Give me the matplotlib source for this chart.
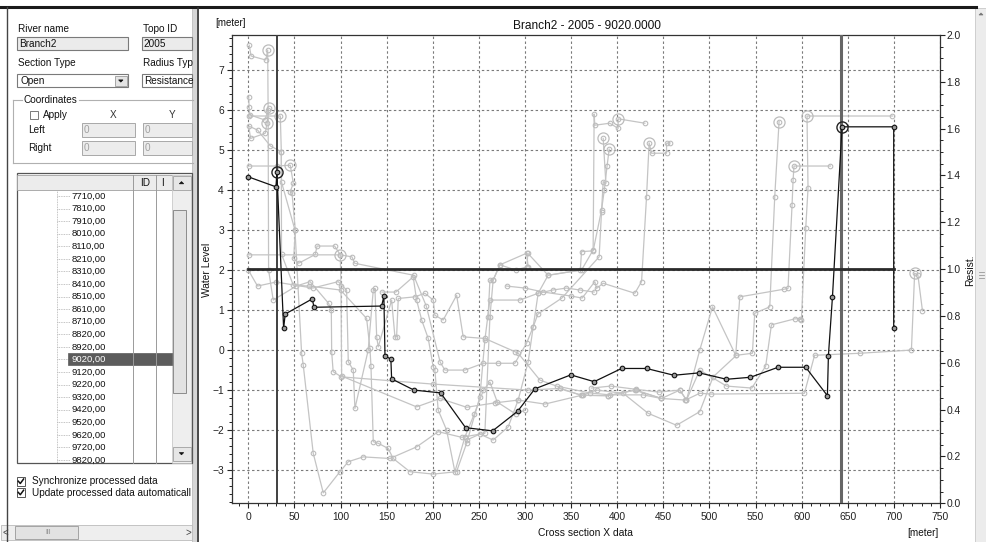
import matplotlib
matplotlib.use('Agg')
import matplotlib.pyplot as plt
from matplotlib.patches import Rectangle, Polygon
import matplotlib.ticker as mt

plt.rcParams['font.family'] = ['Liberation Sans', 'DejaVu Sans']

# ---------------- data ----------------
title = "Branch2 - 2005 - 9020.0000"
river_name = "Branch2"
topo_id = "2005"
section_items = ["7710,00", "7810,00", "7910,00", "8010,00", "8110,00", "8210,00",
                 "8310,00", "8410,00", "8510,00", "8610,00", "8710,00", "8820,00",
                 "8920,00", "9020,00", "9120,00", "9220,00", "9320,00", "9420,00",
                 "9520,00", "9620,00", "9720,00", "9820,00"]
selected_item = "9020,00"

# current section (black)
cur_x = [0, 30, 31, 38.3, 40, 69.4, 71.2, 144.6, 147, 148.2, 154.6, 155.4, 179.6, 208.5,
         235.6, 264.9, 292, 310.7, 349.7, 375, 404.7, 431.8, 461.4, 488.8, 518.5, 544.5,
         574.4, 604.4, 627.9, 629, 633.4, 643.8, 699.8, 699.8]
cur_y = [4.33, 4.08, 4.44, 0.54, 0.9, 1.28, 1.07, 1.1, 1.35, -0.14, -0.23, -0.72, -1.0, -1.07,
         -1.94, -2.02, -1.53, -0.97, -0.62, -0.79, -0.46, -0.46, -0.63, -0.57, -0.73, -0.68,
         -0.43, -0.43, -1.14, -0.14, 1.33, 5.58, 5.58, 0.56]
cur_bank_x = [31, 643.8]
cur_bank_y = [4.44, 5.58]

# bank marker lines and resistance
bank_left = 30.8
bank_right = 643.1
res_x = [0, 700]
res_y = [1.0, 1.0]

# neighbouring sections (grey)
g1_x = [1, 3, 19, 21, 21.5, 22, 27, 52, 67, 87, 90, 90.4, 92, 101, 200, 303, 338, 361, 390,
        419, 448, 474, 489.5, 502, 603, 614, 663, 719, 722.5, 726, 731]
g1_y = [7.62, 7.35, 7.25, 7.5, 6.0, 2.0, 1.25, 1.6, 1.71, 1.17, 1.0, -0.04, -0.54, -0.67,
        -0.85, -1.0, -0.96, -1.13, -1.14, -1.0, -1.21, -1.25, -1.08, -1.1, -1.08, -0.13,
        -0.08, 0.0, 1.92, 1.88, 0.98]
g2_x = [0.4, 0.9, 1.5, 18, 22.1, 20.3, 18.4, 2.5, 0.4, 10, 24, 35.8, 36, 50.6, 57.8, 59.6,
        70.4, 81.3, 99.4, 108.4, 124.6, 153.6, 182.5, 205.9, 231.3, 256.5, 262, 265.5,
        272.8, 301.7, 303.5]
g2_y = [6.33, 6.07, 5.88, 5.75, 6.04, 5.67, 5.42, 5.29, 5.6, 5.5, 5.1, 4.96, 4.2, 3.0,
        -0.08, -0.38, -2.58, -3.57, -3.04, -2.79, -2.67, -2.71, -2.42, -2.04, -2.18, -2.08,
        0.83, 1.75, 2.13, 2.42, 2.08]
g3_x = [0.4, 34.7, 35.8, 36, 48.8, 66, 100, 128.3, 131.9, 133, 135.5, 140.9, 151.7, 157.1,
        175.2, 200.5, 225.8, 236.7, 251.1, 256.5, 261.9, 294.5, 314.3, 325.1, 361.3, 373.9,
        375, 375.7, 392, 401, 401, 430]
g3_y = [5.85, 5.85, 4.96, 2.4, 1.62, 1.6, 1.5, 0.79, 0.04, -0.4, -2.29, -2.33, -2.46, -2.71,
        -3.04, -3.1, -3.04, -2.33, -1.17, 0.25, 1.25, 1.25, 1.42, 1.87, 2.0, 2.5, 5.9, 5.62,
        5.67, 5.54, 5.78, 5.67]
g4_x = [0.4, 31, 45.5, 48.8, 45.5, 47.4, 51, 49.2, 54.6, 72.6, 74.5, 93.6, 99.7, 112.4,
        115.3, 179.2, 193, 208, 213.2, 234.9, 254.8, 271, 289, 301.7, 308.9, 314, 340, 380.4,
        383, 384.8, 387.7, 384.8]
g4_y = [4.6, 4.6, 4.62, 4.17, 3.96, 3.92, 3.0, 2.29, 2.17, 2.39, 2.6, 2.6, 2.38, 2.33, 2.17,
        1.87, 1.1, -0.3, -0.5, -0.5, -0.33, -0.33, -0.33, 0.17, 0.58, 0.9, 1.3, 2.33, 3.46,
        4.21, 4.17, 5.29]
g5_x = [0.4, 99.7, 100.5, 101.2, 182.5, 207.8, 236.7, 267.4, 292.6, 321.6, 363.1, 377.6,
        406.5, 433.5, 464.3, 489.5, 504, 529.3, 546.6, 549.1, 565.4, 570.8, 575.5]
g5_y = [2.38, 2.38, 1.6, -0.65, -1.42, -1.21, -1.43, -1.32, -1.25, -1.35, -1.12, -1.0,
        -1.08, -1.58, -1.88, -1.54, -0.67, -0.13, -0.08, 0.92, 1.08, 3.83, 5.71]
g6_x = [698.4, 605.8, 606.9, 604.4, 599.7, 598.7, 592.5, 567.2, 561, 546, 518.5, 489.5,
        475.1, 467.9, 445, 420, 393, 372]
g6_y = [5.85, 5.85, 4.04, 3.04, 0.75, 0.78, 0.78, 0.63, -0.4, -0.95, -0.9, -0.5, -1.25,
        -1.0, -1.05, -0.98, -0.9, -0.95]
g7_x = [631.2, 591.7, 590.7, 589.6, 585.2, 580.6, 532.9, 528.5, 503.3, 489.5, 475.1, 467.9,
        448, 420, 390, 361.3, 338]
g7_y = [4.6, 4.6, 4.25, 3.63, 1.54, 1.52, 1.33, -0.13, 1.08, 0.0, -1.25, -1.0, -1.21, -1.0,
        -1.14, -1.13, -0.96]
g8_x = [457, 453.5, 453.5, 437.2, 434.6, 431.8, 426.4, 419.1, 384.8, 377.6, 375.7, 362,
        350, 320, 300, 280]
g8_y = [5.18, 5.17, 4.92, 4.92, 5.18, 3.83, 1.71, 1.42, 1.67, 1.54, 1.71, 1.3, 1.35, 1.45,
        1.55, 1.6]
g9_x = [391.3, 389, 386, 383, 373.9, 361.3, 360, 325.1, 303, 302.2, 290, 272.8, 265.5, 262,
        260]
g9_y = [5.02, 4.6, 4.0, 3.5, 2.48, 2.46, 2.0, 1.87, 2.42, 2.08, 2.0, 2.13, 1.75, 1.75, 0.83]
g10_x = [0, 10, 30, 70, 97.5, 106.6, 108.4, 113.8, 115.6, 130, 135.5, 137.3, 139.2, 140.9,
         155.4, 159, 160.8, 162.6, 180.7, 191.5, 200.5, 202.3, 211.3, 225.9, 233, 256.5,
         289, 292.6, 316.2, 334.2, 370, 392, 428.1, 448]
g10_y = [2.0, 1.6, 1.7, 1.55, 1.71, 1.5, -0.29, -0.5, -1.46, 0.0, 1.5, 1.54, 0.33, 0.08,
         1.25, 0.33, 0.33, 1.29, 1.33, 1.42, 1.25, 0.87, 0.75, 1.37, 0.33, 0.29, -0.04,
         -0.08, -0.75, -0.9, -1.07, -1.12, -1.12, -1.21]
g11_x = [145, 160, 178.8, 182.5, 188, 195.1, 200.5, 202.3, 205.9, 215, 224, 234.9, 245, 255,
         262, 270, 290, 300]
g11_y = [1.45, 1.45, 1.83, 1.25, 0.75, 0.29, -0.42, -0.5, -1.5, -2.0, -3.04, -2.17, -1.6,
         -1.0, -0.8, -1.3, -1.6, -1.5]
g12_x = [236.7, 251, 265.5, 281.8, 292.6, 303.5, 308.9, 314.3, 330, 345, 360, 375]
g12_y = [-2.25, -2.1, -2.25, -1.92, -1.25, -0.29, 0.58, 1.42, 1.5, 1.55, 1.5, 1.45]
grey_series = [(g1_x, g1_y), (g2_x, g2_y), (g3_x, g3_y), (g4_x, g4_y), (g5_x, g5_y),
               (g6_x, g6_y), (g7_x, g7_y), (g8_x, g8_y), (g9_x, g9_y), (g10_x, g10_y),
               (g11_x, g11_y), (g12_x, g12_y)]
grey_bank_x = [21, 22.1, 20.3, 34.7, 45.5, 99.7, 401, 384.8, 391.3, 434.6, 575.5, 605.8,
               591.7, 722.5]
grey_bank_y = [7.5, 6.04, 5.67, 5.85, 4.62, 2.38, 5.78, 5.29, 5.02, 5.18, 5.71, 5.85, 4.6,
               1.92]

# ---------------- figure ----------------
W, H = 986, 542
fig = plt.figure(figsize=(W / 100, H / 100), dpi=100)
fig.patch.set_facecolor('white')
bg = fig.add_axes([0, 0, 1, 1])
bg.set_xlim(0, W)
bg.set_ylim(H, 0)
bg.axis('off')

GUI_FS = 7.2


def box(x0, y0, x1, y1, fc='white', ec='#808080', lw=0.8, z=2):
    bg.add_patch(Rectangle((x0, y0), x1 - x0, y1 - y0, fc=fc, ec=ec, lw=lw, zorder=z))


def txt(x, y, s, size=GUI_FS, **kw):
    kw.setdefault('va', 'center')
    kw.setdefault('ha', 'left')
    kw.setdefault('color', '#111111')
    bg.text(x, y, s, fontsize=size, zorder=5, **kw)


def tri(cx, cy, up=False, s=2.5, color='#111111'):
    if up:
        pts = [(cx - s, cy + s / 2), (cx + s, cy + s / 2), (cx, cy - s / 2)]
    else:
        pts = [(cx - s, cy - s / 2), (cx + s, cy - s / 2), (cx, cy + s / 2)]
    bg.add_patch(Polygon(pts, closed=True, fc=color, ec=color, lw=0.5, zorder=6))


# window frame
bg.plot([0, 976], [6.5, 6.5], color='#1a1a1a', lw=2.2, zorder=3)
bg.plot([6.5, 6.5], [7, 542], color='#444444', lw=1.0, zorder=3)
box(192, 8, 197.5, 542, fc='#d6d6d6', ec='#bdbdbd', lw=0.6)
bg.plot([197.7, 197.7], [8, 542], color='#333333', lw=1.2, zorder=3)
box(975, 8, 986, 542, fc='#ececec', ec='#c8c8c8', lw=0.6)
tri(981, 14, up=True, s=2, color='#777777')
bg.plot([979, 984], [272, 272], color='#999999', lw=0.6, zorder=4)
bg.plot([979, 984], [275, 275], color='#999999', lw=0.6, zorder=4)
bg.plot([979, 984], [278, 278], color='#999999', lw=0.6, zorder=4)

# left panel
txt(18.3, 28.5, "River name")
txt(142.7, 28.5, "Topo ID")
box(17.3, 37.3, 128.3, 50, fc='#ebebeb', ec='#7a7a7a')
txt(19.5, 43.8, river_name)
box(141.7, 37.3, 192, 50, fc='#ebebeb', ec='#7a7a7a')
txt(143.5, 43.8, topo_id)
txt(18.3, 62.7, "Section Type")
txt(142.7, 62.7, "Radius Typ")
box(17.3, 74, 128.3, 87.3, fc='white', ec='#7a7a7a')
txt(20.5, 80.8, "Open")
box(115, 76, 126.7, 86, fc='#e4e4e4', ec='#9a9a9a', lw=0.6)
tri(120.8, 81, s=2.2)
box(141.7, 74, 192, 87.3, fc='white', ec='#7a7a7a')
txt(144, 80.8, "Resistance")

# coordinates group
bg.plot([13.3, 22], [100, 100], color='#b0b0b0', lw=0.8, zorder=3)
bg.plot([79, 193], [100, 100], color='#b0b0b0', lw=0.8, zorder=3)
bg.plot([13.3, 13.3], [100, 163.3], color='#b0b0b0', lw=0.8, zorder=3)
bg.plot([13.3, 193], [163.3, 163.3], color='#b0b0b0', lw=0.8, zorder=3)
txt(24, 100, "Coordinates")
box(30, 110.7, 38.3, 119.3, fc='white', ec='#7a7a7a', lw=0.7)
txt(43.3, 115, "Apply")
txt(110, 115, "X", color='#333333')
txt(168.3, 115, "Y", color='#333333')
txt(28.3, 130, "Left")
txt(28.3, 148, "Right")
for yy in (123, 141):
    box(81.7, yy, 135, yy + 14, fc='#ececec', ec='#a8a8a8', lw=0.7)
    box(142.7, yy, 192, yy + 14, fc='#ececec', ec='#a8a8a8', lw=0.7)
    txt(83.5, yy + 7, "0", color='#a0a0a0')
    txt(144.5, yy + 7, "0", color='#a0a0a0')

# list box
box(16.7, 173.3, 191.7, 463.3, fc='white', ec='#555555', lw=0.9)
box(17.2, 175, 172, 190, fc='#ececec', ec='#a0a0a0', lw=0.6)
for xx in (132.7, 156):
    bg.plot([xx, xx], [175, 463], color='#9a9a9a', lw=0.7, zorder=4)
txt(140.5, 182.7, "ID")
txt(161, 182.7, "I")
box(172, 175, 191.2, 463, fc='#eeeeee', ec='#c0c0c0', lw=0.5)
box(172.5, 175.5, 190.5, 190, fc='#e6e6e6', ec='#a0a0a0', lw=0.6)
tri(181.5, 182.7, up=True, s=2.2)
box(172.7, 210, 185.5, 392.7, fc='#e2e2e2', ec='#8c8c8c', lw=0.7)
box(172.5, 446.5, 190.5, 461, fc='#e6e6e6', ec='#a0a0a0', lw=0.6)
tri(181.5, 453.7, s=2.2)
bg.plot([57.3, 57.3], [190, 463], color='#b0b0b0', lw=0.6, ls=(0, (1, 1)), zorder=3)
y0, step = 196.0, 12.57
for i, s in enumerate(section_items):
    yy = y0 + i * step
    if yy > 462:
        break
    bg.plot([57.3, 70], [yy, yy], color='#b0b0b0', lw=0.6, ls=(0, (1, 1)), zorder=3)
    if s == selected_item:
        box(68.3, yy - 6, 171.7, yy + 6, fc='#5c5c5c', ec='#5c5c5c', lw=0.5, z=3)
        txt(71.5, yy, s, size=6.8, color='white')
    else:
        txt(71.5, yy, s, size=6.8)

for yy, lab in ((481.5, "Synchronize processed data"),
                (492.7, "Update processed data automaticall")):
    box(16.7, yy - 4.5, 25, yy + 4.5, fc='white', ec='#555555', lw=0.7)
    bg.plot([18.3, 20.3, 23.6], [yy - 0.3, yy + 2, yy - 2.5], color='#111111', lw=1.1, zorder=6)
    txt(31.7, yy, lab)

# bottom scroll bar
box(1, 525, 191.7, 540, fc='#eeeeee', ec='#bbbbbb', lw=0.6)
box(15, 526, 78, 539, fc='#e2e2e2', ec='#999999', lw=0.6)
txt(48, 532.5, "III", size=5, color='#888888', ha='center')
txt(5, 532.5, "<", size=7, color='#444444', ha='center')
txt(188, 532.5, ">", size=7, color='#444444', ha='center')

# chart text
txt(215.7, 22.7, "[meter]", size=7.0)
txt(513.3, 26, title, size=8.6)
txt(585.8, 532.7, "Cross section X data", size=7.4, ha='center')
txt(923, 533, "[meter]", size=7.2, ha='center')
txt(207, 270, "Water Level", size=7.4, ha='center', rotation=90)
txt(970, 270, "Resist.", size=7.4, ha='center', rotation=90)

# ---------------- chart ----------------
L, R, T, B = 231.7, 940.0, 35.0, 503.3
ax = fig.add_axes([L / W, 1 - B / H, (R - L) / W, (B - T) / H])
ax.set_facecolor('white')
ax.set_xlim(-18, 750)
ax.set_ylim(-3.83, 7.875)

ax.xaxis.set_major_locator(mt.MultipleLocator(50))
ax.xaxis.set_minor_locator(mt.MultipleLocator(10))
ax.yaxis.set_major_locator(mt.MultipleLocator(1))
ax.yaxis.set_minor_locator(mt.MultipleLocator(0.2))
ax.tick_params(which='major', direction='out', length=3.6, width=0.8, labelsize=7.4,
               colors='#222222', pad=2)
ax.tick_params(which='minor', direction='out', length=2.0, width=0.7, colors='#222222')
ax.tick_params(axis='x', pad=3)
for sp in ax.spines.values():
    sp.set_color('#333333')
    sp.set_linewidth(0.9)
ax.grid(True, which='major', color='#7a7a7a', lw=0.8, ls=(0, (2.2, 2.2)))
ax.set_axisbelow(True)

ax2 = ax.twinx()
ax2.set_ylim(0, 2.0)
ax2.yaxis.set_major_locator(mt.MultipleLocator(0.2))
ax2.yaxis.set_minor_locator(mt.MultipleLocator(0.05))
ax2.yaxis.set_major_formatter(mt.FormatStrFormatter('%.1f'))
ax2.tick_params(which='major', direction='out', length=3.6, width=0.8, labelsize=7.4,
                colors='#222222', pad=1)
ax2.tick_params(which='minor', direction='out', length=2.0, width=0.7, colors='#222222')
for sp in ax2.spines.values():
    sp.set_visible(False)

GREY = '#c4c4c4'
for gx, gy in grey_series:
    ax.plot(gx, gy, color=GREY, lw=0.9, marker='o', ms=3.3, mfc='none', mec='#bcbcbc',
            mew=0.8, zorder=2)
ax.plot(grey_bank_x, grey_bank_y, ls='none', marker='o', ms=8, mfc='none', mec='#bcbcbc',
        mew=0.9, zorder=2)

ax.axvline(bank_left, color='#404040', lw=1.4, zorder=3)
ax.axvline(bank_right, color='#666666', lw=2.2, zorder=3)
ax2.plot(res_x, res_y, color='#2a2a2a', lw=2.0, zorder=3)

ax.plot(cur_x, cur_y, color='#111111', lw=0.9, marker='o', ms=3.3, mfc='#9a9a9a',
        mec='#111111', mew=0.8, zorder=5)
ax.plot(cur_bank_x, cur_bank_y, ls='none', marker='o', ms=8, mfc='none', mec='#222222',
        mew=1.0, zorder=5)
ax.set_zorder(bg.get_zorder() + 1)
ax2.set_zorder(ax.get_zorder() + 1)
ax2.patch.set_visible(False)

fig.savefig('out.png', dpi=100)
